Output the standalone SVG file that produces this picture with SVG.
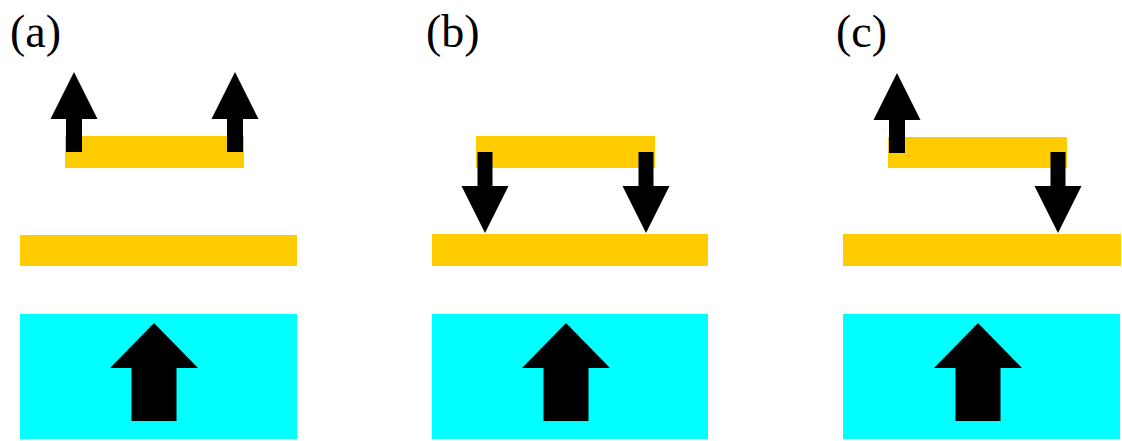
<svg xmlns="http://www.w3.org/2000/svg" xmlns:xlink="http://www.w3.org/1999/xlink" width="1122" height="441" viewBox="0 0 1122 441">
<style>
.bar{fill:#FFCC00}
.sub{fill:#00FFFF}
.arr{fill:#000}
.lbl{font-family:"Liberation Serif","Times New Roman",serif;font-size:46px;fill:#000}
</style>
<defs>
<path id="up" d="M0,0 L23.5,47 L8,47 L8,80 L-8,80 L-8,47 L-23.5,47 Z"/>
<path id="down" d="M0,0 L23.5,-47 L7.5,-47 L7.5,-81 L-7.5,-81 L-7.5,-47 L-23.5,-47 Z"/>
<path id="big" d="M0,0 L44,45 L22.5,45 L22.5,98 L-22.5,98 L-22.5,45 L-44,45 Z"/>
</defs>
<rect width="1122" height="441" fill="#fff"/>
<g id="panel-a">
<text class="lbl" x="10" y="47">(a)</text>
<rect class="bar" x="65" y="136" width="179" height="32"/>
<rect class="bar" x="20" y="235" width="277" height="31"/>
<rect class="sub" x="20" y="314" width="277" height="125"/>
<use class="arr" href="#up" xlink:href="#up" transform="translate(74,72)"/>
<use class="arr" href="#up" xlink:href="#up" transform="translate(235,72)"/>
<use class="arr" href="#big" xlink:href="#big" transform="translate(154,323)"/>
</g>
<g id="panel-b">
<text class="lbl" x="426" y="47">(b)</text>
<rect class="bar" x="476" y="136" width="179" height="32"/>
<rect class="bar" x="432" y="234" width="276" height="32"/>
<rect class="sub" x="432" y="314" width="276" height="125"/>
<use class="arr" href="#down" xlink:href="#down" transform="translate(485,233)"/>
<use class="arr" href="#down" xlink:href="#down" transform="translate(646,233)"/>
<use class="arr" href="#big" xlink:href="#big" transform="translate(566,323)"/>
</g>
<g id="panel-c">
<text class="lbl" x="836" y="47">(c)</text>
<rect class="bar" x="888" y="137" width="179" height="31"/>
<rect class="bar" x="843" y="234" width="278" height="32"/>
<rect class="sub" x="843" y="314" width="277" height="125"/>
<use class="arr" href="#up" xlink:href="#up" transform="translate(897,73)"/>
<use class="arr" href="#down" xlink:href="#down" transform="translate(1058,233)"/>
<use class="arr" href="#big" xlink:href="#big" transform="translate(978,323)"/>
</g>
<g id="connectors"/>
</svg>
